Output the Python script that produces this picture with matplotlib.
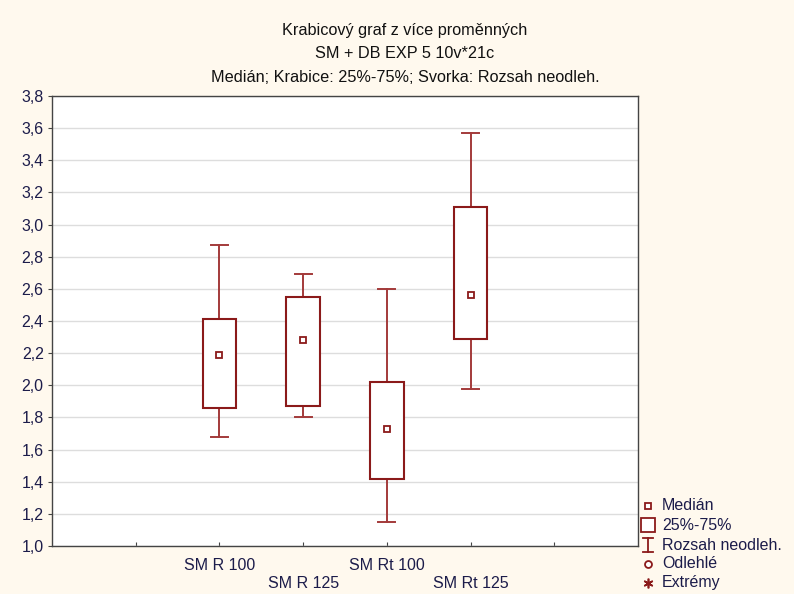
import matplotlib
matplotlib.use("Agg")
import matplotlib.pyplot as plt
from matplotlib.lines import Line2D
from matplotlib.patches import Rectangle

plt.rcParams['font.family'] = ['Liberation Sans', 'DejaVu Sans']

categories = ["SM R 100", "SM R 125", "SM Rt 100", "SM Rt 125"]
positions = [2, 3, 4, 5]
medians = [2.19, 2.28, 1.73, 2.56]
q1 = [1.86, 1.87, 1.42, 2.29]
q3 = [2.41, 2.55, 2.02, 3.11]
whisk_lo = [1.68, 1.80, 1.15, 1.98]
whisk_hi = [2.87, 2.69, 2.60, 3.57]

yticks = [1.0, 1.2, 1.4, 1.6, 1.8, 2.0, 2.2, 2.4, 2.6, 2.8, 3.0, 3.2, 3.4, 3.6, 3.8]

title_lines = ["Krabicový graf z více proměnných",
               "SM + DB EXP 5 10v*21c",
               "Medián; Krabice: 25%-75%; Svorka: Rozsah neodleh."]
legend_labels = ["Medián", "25%-75%", "Rozsah neodleh.", "Odlehlé", "Extrémy"]

bg = "#FFF9EE"
box_c = "#8B1A1A"
wh_c = "#A33A3A"
txt_c = "#1C1C4A"

W, H = 794, 594
fig = plt.figure(figsize=(W / 100, H / 100), dpi=100, facecolor=bg)
ax = fig.add_axes([52 / W, 1 - 546 / H, (638 - 52) / W, (546 - 96) / H])
ax.set_facecolor("white")

bw = 0.4
cw = 0.2
for p, m, a, b, lo, hi in zip(positions, medians, q1, q3, whisk_lo, whisk_hi):
    ax.plot([p, p], [b, hi], color=wh_c, lw=1.4, zorder=3)
    ax.plot([p, p], [lo, a], color=wh_c, lw=1.4, zorder=3)
    ax.plot([p - cw / 2, p + cw / 2], [hi, hi], color=wh_c, lw=1.4, zorder=3)
    ax.plot([p - cw / 2, p + cw / 2], [lo, lo], color=wh_c, lw=1.4, zorder=3)
    ax.add_patch(Rectangle((p - bw / 2, a), bw, b - a, facecolor="white",
                           edgecolor=box_c, lw=1.5, zorder=4))
    ax.plot([p], [m], marker="s", ms=5, mfc="white", mec=box_c, mew=1.3, zorder=5)

ax.set_xlim(0, 7)
ax.set_ylim(1.0, 3.8)
ax.set_yticks(yticks)
ax.set_yticklabels([f"{v:.1f}".replace(".", ",") for v in yticks])
ax.set_xticks([1, 2, 3, 4, 5, 6])
xl = [""]
for i, c in enumerate(categories):
    xl.append(c if i % 2 == 0 else "\n" + c)
xl.append("")
ax.set_xticklabels(xl, linespacing=1.2)
ax.yaxis.grid(True, color="#DDDDDD", lw=1.0)
ax.set_axisbelow(True)
ax.tick_params(axis="y", direction="out", length=3, colors="#444444",
               labelcolor=txt_c, labelsize=11.5, pad=3)
ax.tick_params(axis="x", direction="in", length=3, colors="#444444",
               labelcolor=txt_c, labelsize=11.5, pad=9)
for s in ax.spines.values():
    s.set_color("#444444")
    s.set_linewidth(1.0)

for i, t in enumerate(title_lines):
    fig.text(405 / W, 1 - (30 + 23.5 * i) / H, t, ha="center", va="center",
             fontsize=11.7, color="#111111")

# legend
ys = [506, 525, 545, 564, 583]
mx = 648
tx = 662
def fy(y):
    return 1 - y / H
fig.add_artist(Line2D([mx / W], [fy(ys[0])], marker="s", ms=5, mfc="white",
                      mec=box_c, mew=1.3, transform=fig.transFigure))
fig.add_artist(Rectangle(((mx - 7) / W, fy(ys[1] + 7)), 14 / W, 14 / H,
                         facecolor="white", edgecolor=box_c, lw=1.3,
                         transform=fig.transFigure))
fig.add_artist(Line2D([mx / W, mx / W], [fy(ys[2] - 7), fy(ys[2] + 7)],
                      color=box_c, lw=1.3, transform=fig.transFigure))
fig.add_artist(Line2D([(mx - 5) / W, (mx + 5) / W], [fy(ys[2] - 7)] * 2,
                      color=box_c, lw=1.3, transform=fig.transFigure))
fig.add_artist(Line2D([(mx - 5) / W, (mx + 5) / W], [fy(ys[2] + 7)] * 2,
                      color=box_c, lw=1.3, transform=fig.transFigure))
fig.add_artist(Line2D([mx / W], [fy(ys[3])], marker="o", ms=5, mfc="white",
                      mec=box_c, mew=1.3, transform=fig.transFigure))
fig.add_artist(Line2D([mx / W], [fy(ys[4])], marker=(6, 2, 0), ms=7,
                      mfc=box_c, mec=box_c, mew=1.2, transform=fig.transFigure))
for y, lab in zip(ys, legend_labels):
    fig.text(tx / W, fy(y), lab, ha="left", va="center", fontsize=11.5,
             color=txt_c)

fig.savefig("out.png", dpi=100, facecolor=bg)
